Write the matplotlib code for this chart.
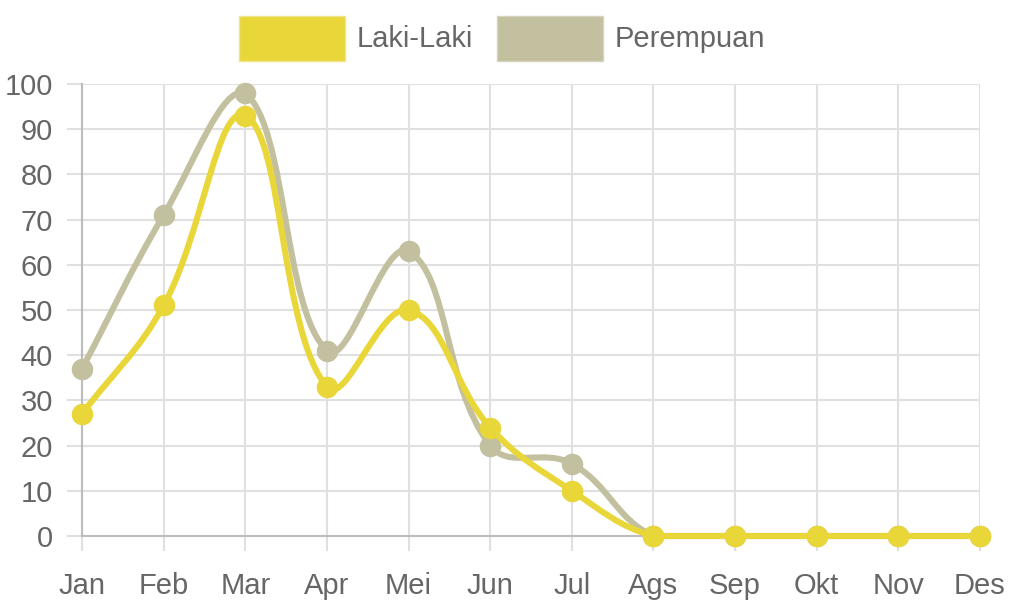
import numpy as np
import matplotlib
matplotlib.use("Agg")
import matplotlib.pyplot as plt
from matplotlib.path import Path
from matplotlib.patches import PathPatch, Patch

months = ["Jan", "Feb", "Mar", "Apr", "Mei", "Jun", "Jul", "Ags", "Sep", "Okt", "Nov", "Des"]
laki = [27, 51, 93, 33, 50, 24, 10, 0, 0, 0, 0, 0]
perempuan = [37, 71, 98, 41, 63, 20, 16, 0, 0, 0, 0, 0]
y_ticks = [0, 10, 20, 30, 40, 50, 60, 70, 80, 90, 100]

col_laki = "#E9D638"
col_per = "#C3C0A0"
text_col = "#666666"
grid_col = "#e0e0e0"
zero_col = "#bdbdbd"

plt.rcParams['font.family'] = ['Liberation Sans', 'DejaVu Sans']
FS = 21

fig = plt.figure(figsize=(10.12, 6.08), dpi=100)
W, H = 1012, 608
ax = fig.add_axes([82 / W, (H - 536) / H, (980 - 82) / W, (536 - 84) / H])
x = np.arange(len(months))
ax.set_xlim(0, len(months) - 1)
ax.set_ylim(0, 100)
ax.set_xticks(x)
ax.set_xticklabels(months)
ax.set_yticks(y_ticks)
ax.grid(True, color=grid_col, linewidth=1.5, zorder=0)
ax.tick_params(axis='both', length=11, width=1.5, color=grid_col, labelcolor=text_col, labelsize=FS)
ax.tick_params(axis='y', pad=10)
ax.tick_params(axis='x', pad=15)
for s in ["top", "right"]:
    ax.spines[s].set_visible(False)
for s in ["left", "bottom"]:
    ax.spines[s].set_color(zero_col)
    ax.spines[s].set_linewidth(1.5)
ax.set_axisbelow(True)


def bezier_path(xs, ys, tension=0.4):
    pts = ax.transData.transform(np.column_stack([xs, ys]))
    x0, y0 = ax.transData.transform((0, 0))
    x1, y1 = ax.transData.transform((len(months) - 1, 100))
    n = len(pts)
    prevc, nextc = [], []
    for i in range(n):
        p = pts[max(i - 1, 0)]
        m = pts[i]
        q = pts[min(i + 1, n - 1)]
        d01 = np.hypot(*(m - p))
        d12 = np.hypot(*(q - m))
        tot = d01 + d12
        s01 = d01 / tot if tot else 0
        s12 = d12 / tot if tot else 0
        fa, fb = tension * s01, tension * s12
        pc = m - fa * (q - p)
        nc = m + fb * (q - p)
        pc = np.array([np.clip(pc[0], x0, x1), np.clip(pc[1], y0, y1)])
        nc = np.array([np.clip(nc[0], x0, x1), np.clip(nc[1], y0, y1)])
        prevc.append(pc)
        nextc.append(nc)
    verts = [pts[0]]
    codes = [Path.MOVETO]
    for i in range(n - 1):
        verts += [nextc[i], prevc[i + 1], pts[i + 1]]
        codes += [Path.CURVE4] * 3
    inv = ax.transData.inverted()
    return Path(inv.transform(np.array(verts)), codes)


for vals, col, z in [(perempuan, col_per, 3), (laki, col_laki, 5)]:
    patch = PathPatch(bezier_path(x, vals), facecolor='none', edgecolor=col, linewidth=4.4,
                      capstyle='round', joinstyle='round', zorder=z, clip_on=False)
    ax.add_patch(patch)
    ax.plot(x, vals, linestyle='none', marker='o', markersize=15.5, color=col,
            markeredgewidth=0, zorder=z + 0.5, clip_on=False)

handles = [Patch(facecolor=col_laki, edgecolor='#f0e58a', linewidth=1, label="Laki-Laki"),
           Patch(facecolor=col_per, edgecolor='#d6d4be', linewidth=1, label="Perempuan")]
fig.legend(handles=handles, loc='upper center', bbox_to_anchor=(502 / W, 1 - 4 / H), ncol=2,
           frameon=False, fontsize=FS, labelcolor=text_col, handlelength=3.65, handleheight=2.0,
           handletextpad=0.4, columnspacing=0.8, borderaxespad=0)

fig.savefig("out.png", dpi=100)
